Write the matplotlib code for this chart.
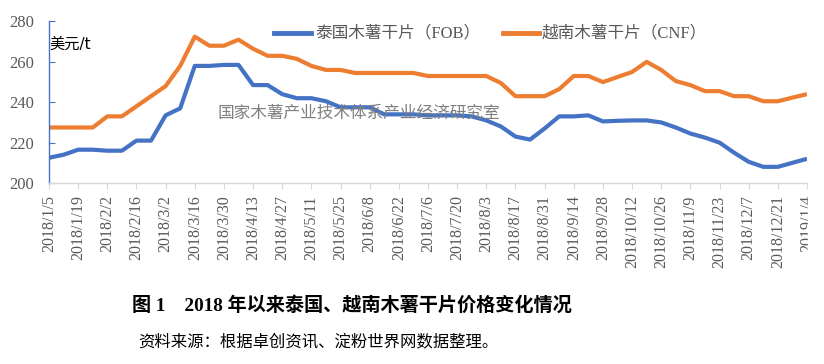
import matplotlib
matplotlib.use("Agg")
import matplotlib.pyplot as plt
from matplotlib.patches import Rectangle

# weekly dates, 2018/1/5 .. 2019/1/4
dates = [
    "2018/1/5", "2018/1/12", "2018/1/19", "2018/1/26", "2018/2/2", "2018/2/9",
    "2018/2/16", "2018/2/23", "2018/3/2", "2018/3/9", "2018/3/16", "2018/3/23",
    "2018/3/30", "2018/4/6", "2018/4/13", "2018/4/20", "2018/4/27", "2018/5/4",
    "2018/5/11", "2018/5/18", "2018/5/25", "2018/6/1", "2018/6/8", "2018/6/15",
    "2018/6/22", "2018/6/29", "2018/7/6", "2018/7/13", "2018/7/20", "2018/7/27",
    "2018/8/3", "2018/8/10", "2018/8/17", "2018/8/24", "2018/8/31", "2018/9/7",
    "2018/9/14", "2018/9/21", "2018/9/28", "2018/10/5", "2018/10/12", "2018/10/19",
    "2018/10/26", "2018/11/2", "2018/11/9", "2018/11/16", "2018/11/23", "2018/11/30",
    "2018/12/7", "2018/12/14", "2018/12/21", "2018/12/28", "2019/1/4",
]

# Thailand cassava chips (FOB), USD/t
thai_fob = [
    212.5, 214, 216.5, 216.5, 216, 216, 221, 221, 233.5, 237,
    258, 258, 258.5, 258.5, 248.5, 248.5, 244, 242, 242, 240.5,
    237.5, 237.5, 237.5, 234, 234, 234, 233.5, 233.5, 233.5, 233,
    231, 228, 223, 221.5, 227, 233, 233, 233.5, 230.5, 230.8,
    231, 231, 230, 227.5, 224.5, 222.5, 220, 215, 210.5, 208,
    208, 210, 212,
]

# Vietnam cassava chips (CNF), USD/t
viet_cnf = [
    227.5, 227.5, 227.5, 227.5, 233, 233, 238, 243, 248, 258,
    272.5, 268, 268, 271, 266.5, 263, 263, 261.5, 258, 256,
    256, 254.5, 254.5, 254.5, 254.5, 254.5, 253, 253, 253, 253,
    253, 249.5, 243, 243, 243, 246.5, 253, 253, 250, 252.5,
    255, 260, 256, 250.5, 248.5, 245.5, 245.5, 243, 243, 240.5,
    240.5, 242.3, 244,
]

series_names = ["泰国木薯干片（FOB）", "越南木薯干片（CNF）"]
ylabel = "美元/t"
watermark = "国家木薯产业技术体系产业经济研究室"
caption = "图 1　2018 年以来泰国、越南木薯干片价格变化情况"
source = "资料来源：根据卓创资讯、淀粉世界网数据整理。"

blue = "#4472C4"
orange = "#ED7D31"
grey = "#595959"
cjk = ["Liberation Serif", "Noto Sans CJK SC"]

W, H = 824, 364
fig = plt.figure(figsize=(W / 100, H / 100), dpi=100)
ax = fig.add_axes([49 / W, 1 - 183 / H, 758 / W, 161.5 / H])

x = list(range(len(dates)))
ax.plot(x, thai_fob, color=blue, lw=3, solid_joinstyle="round", solid_capstyle="butt")
ax.plot(x, viet_cnf, color=orange, lw=3, solid_joinstyle="round", solid_capstyle="butt")

ax.set_xlim(0, len(dates) - 1)
ax.set_ylim(200, 280)
ax.set_yticks(range(200, 281, 20))
ax.set_xticks(x[::2])
ax.set_xticklabels(dates[::2], rotation=90, family="Liberation Serif",
                   fontsize=11.5, color=grey)
for t in ax.get_yticklabels():
    t.set_family("Liberation Serif")
    t.set_fontsize(12)
    t.set_color(grey)

for s in ["top", "right"]:
    ax.spines[s].set_visible(False)
ax.spines["left"].set_color(blue)
ax.spines["left"].set_linewidth(1)
ax.spines["bottom"].set_color("#D9D9D9")
ax.spines["bottom"].set_linewidth(1)
ax.tick_params(axis="y", direction="in", length=4, color=blue, pad=11)
ax.tick_params(axis="x", direction="out", length=4, color="#D9D9D9", pad=5)

# unit label
fig.text(49 / W, 1 - 44 / H, ylabel, ha="left", va="center",
         family=["DejaVu Sans", "Noto Sans CJK SC"], fontsize=11, color="black")

# legend drawn by hand
leg_y = 1 - 33 / H
fig.add_artist(plt.Line2D([274 / W, 311 / W], [leg_y, leg_y], color=blue, lw=3.5))
fig.text(315 / W, leg_y, series_names[0], ha="left", va="center",
         family=cjk, fontsize=12, color=grey)
fig.add_artist(plt.Line2D([503 / W, 539 / W], [leg_y, leg_y], color=orange, lw=3.5))
fig.text(542 / W, leg_y, series_names[1], ha="left", va="center",
         family=cjk, fontsize=12, color=grey)

# watermark
fig.text(218 / W, 1 - 113 / H, watermark, ha="left", va="center",
         family=["Noto Sans CJK SC"], fontsize=12, color="#7F7F7F", zorder=5)

# cut off the right edge like the source picture
fig.add_artist(Rectangle((808 / W, 0.3), 1 - 808 / W, 0.19,
                         transform=fig.transFigure, color="white", zorder=10))

fig.text(132 / W, 1 - 305 / H, caption, ha="left", va="center",
         family=cjk, fontsize=13.8, fontweight="bold", color="black")
fig.text(138 / W, 1 - 342 / H, source, ha="left", va="center",
         family=["Noto Sans CJK SC"], fontsize=11.8, color="black")

fig.savefig("out.png", dpi=100)
